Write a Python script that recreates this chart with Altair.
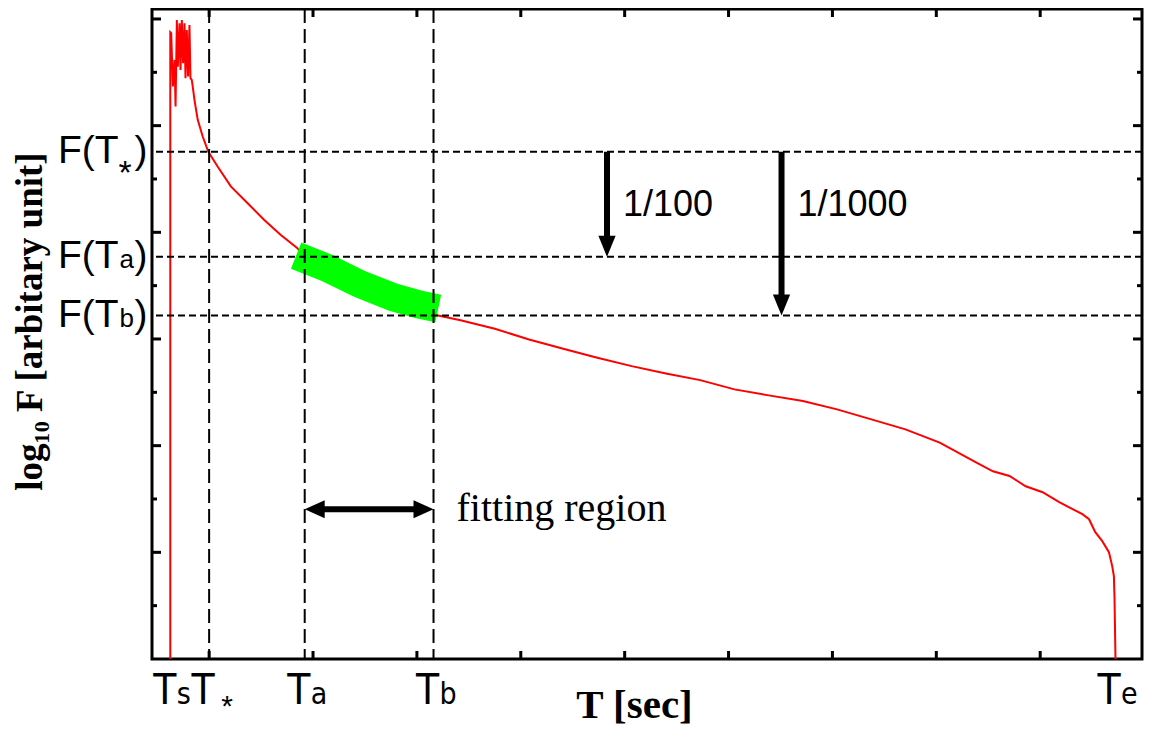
import altair as alt
import pandas as pd

# light curve: T [sec] and log10 F [decades, arbitrary zero]
curve_t = [62.6, 62.6, 63.47, 65.09, 66.72, 67.68, 68.92, 69.88, 71.50, 72.46,
           73.71, 74.95, 76.29, 77.25, 78.49, 79.73, 81.07, 82.03, 83.27, 84.23,
           85.86, 89.02, 93.80, 99.25, 108.15, 120.88, 136.86, 152.84, 168.72, 184.70,
           191.69, 222.97, 256.46, 285.17, 315.79, 342.01, 375.02, 407.93, 440.85, 473.67,
           506.78, 539.69, 572.70, 605.71, 638.63, 671.55, 704.46, 737.47, 770.29, 803.30,
           838.23, 854.50, 870.48, 886.07, 902.34, 918.32, 940.61, 947.02, 953.05, 959.75,
           966.16, 969.32, 970.94, 971.52, 972.48]
curve_logf = [-12.0, -0.249, -0.268, -1.267, -0.768, -1.642, -0.019, -0.893, -0.080, -0.955,
              -0.019, -0.829, -0.080, -1.110, -0.206, -1.080, -0.112, -1.110, -1.142, -1.267,
              -1.516, -1.891, -2.203, -2.490, -2.765, -3.139, -3.450, -3.763, -4.044, -4.292,
              -4.455, -4.736, -5.054, -5.298, -5.541, -5.648, -5.809, -6.009, -6.183, -6.352,
              -6.509, -6.646, -6.771, -6.945, -7.057, -7.164, -7.320, -7.507, -7.694, -7.943,
              -8.312, -8.480, -8.568, -8.761, -8.873, -9.060, -9.285, -9.379, -9.622, -9.791,
              -9.996, -10.259, -10.446, -10.839, -12.0]

# green fit over the fitting region
fit_t = [183.74, 213.41, 244.98, 277.51, 302.39, 320.57]
fit_logf = [-4.437, -4.667, -4.970, -5.219, -5.354, -5.429]

# special times on the T axis
t_names = ["s", "*", "a", "b", "e"]
t_values = [63, 100, 192, 316, 972]
dashed_names = ["*", "a", "b"]

# flux levels F(T*), F(Ta), F(Tb)
f_names = ["*", "a", "b"]
f_levels = [-2.49, -4.46, -5.56]

# drop arrows
ratio_labels = ["1/100", "1/1000"]
ratio_t = [483, 651]
ratio_to = [-4.46, -5.56]

# fitting region arrow
fit_arrow_logf = -9.19

tick_t = [100, 200, 300, 400, 500, 600, 700, 800, 900]
major_logf = [0, -2, -4, -6, -8, -10]
minor_logf = [-1, -3, -5, -7, -9, -11]

SANS = "Liberation Sans, Helvetica, Arial, sans-serif"
NARROW = "Liberation Sans Narrow, DejaVu Sans Condensed, Liberation Sans, sans-serif"
SERIF = "Liberation Serif, Times New Roman, serif"
W, H = 990, 650

curve_df = pd.DataFrame({"t": curve_t, "logf": curve_logf, "i": range(len(curve_t))})
fit_df = pd.DataFrame({"t": fit_t, "logf": fit_logf})
marks_df = pd.DataFrame({"sub": t_names, "t": t_values})
dashed_df = marks_df[marks_df["sub"].isin(dashed_names)]
levels_df = pd.DataFrame({"sub": f_names, "logf": f_levels})
ratio_df = pd.DataFrame({"label": ratio_labels, "t": ratio_t,
                         "start": [f_levels[0]] * 2, "end": ratio_to})
fitreg_df = pd.DataFrame({"label": ["fitting region"], "t0": [t_values[2]],
                          "t1": [t_values[3]], "logf": [fit_arrow_logf]})
xtick_df = pd.DataFrame({"t": tick_t})
major_df = pd.DataFrame({"logf": major_logf})
minor_df = pd.DataFrame({"logf": minor_logf})

xs = alt.Scale(domain=[45, 998.0], nice=False, zero=False)
ys = alt.Scale(domain=[-12, 0.187], nice=False, zero=False)
x_axis = alt.Axis(title="T [sec]", labels=False, ticks=False, domain=False, grid=False,
                  titleFont=SERIF, titleFontWeight="bold", titleFontSize=41,
                  titleColor="black", titleX=482, titleY=58,
                  titleAlign="center", titleBaseline="alphabetic")
y_axis = alt.Axis(title="log₁₀ F [arbitary unit]", labels=False, ticks=False,
                  domain=False, grid=False,
                  titleFont=SERIF, titleFontWeight="bold", titleFontSize=37,
                  titleColor="black", titleAngle=270, titleX=-122, titleY=312,
                  titleAlign="center", titleBaseline="middle")


def X(field):
    return alt.X(f"{field}:Q", scale=xs, axis=x_axis)


def Y(field):
    return alt.Y(f"{field}:Q", scale=ys, axis=y_axis)


DOWN = "M-0.82,-1L0.82,-1L0,1Z"
LEFT = "M1,-0.9L-1,0L1,0.9Z"
RIGHT = "M-1,-0.9L1,0L-1,0.9Z"

curve = alt.Chart(curve_df).mark_line(color="#ff0000", strokeWidth=2).encode(
    x=X("t"), y=Y("logf"), order="i:Q")

band = alt.Chart(fit_df).mark_line(color="#00ff00", strokeWidth=28, strokeCap="butt").encode(
    x=X("t"), y=Y("logf"))

hdash = alt.Chart(levels_df).mark_rule(color="black", strokeWidth=2, strokeDash=[7, 4]).encode(
    y=Y("logf"))
vdash = alt.Chart(dashed_df).mark_rule(color="black", strokeWidth=2, strokeDash=[14, 6]).encode(
    x=X("t"))

tick = dict(color="black", strokeWidth=3)
bottom_ticks = alt.Chart(xtick_df).mark_rule(**tick).encode(
    x=X("t"), y=alt.value(H), y2=alt.value(H - 8))
top_ticks = alt.Chart(xtick_df).mark_rule(**tick).encode(
    x=X("t"), y=alt.value(0), y2=alt.value(8))
left_major = alt.Chart(major_df).mark_rule(**tick).encode(
    y=Y("logf"), x=alt.value(0), x2=alt.value(9))
right_major = alt.Chart(major_df).mark_rule(**tick).encode(
    y=Y("logf"), x=alt.value(W), x2=alt.value(W - 9))
left_minor = alt.Chart(minor_df).mark_rule(**tick).encode(
    y=Y("logf"), x=alt.value(0), x2=alt.value(5))
right_minor = alt.Chart(minor_df).mark_rule(**tick).encode(
    y=Y("logf"), x=alt.value(W), x2=alt.value(W - 5))

shafts = alt.Chart(ratio_df).mark_rule(color="black", strokeWidth=6, strokeCap="butt",
                                       y2Offset=-10).encode(
    x=X("t"), y=Y("start"), y2="end:Q")
heads = alt.Chart(ratio_df).mark_point(shape=DOWN, filled=True, size=441, color="black",
                                       opacity=1, yOffset=-10.5).encode(
    x=X("t"), y=Y("end"))
ratio_text = alt.Chart(ratio_df).mark_text(font=SANS, fontSize=36, align="left",
                                           baseline="alphabetic", dx=16, dy=64,
                                           color="black").encode(
    x=X("t"), y=Y("start"), text="label:N")

fit_shaft = alt.Chart(fitreg_df).mark_rule(color="black", strokeWidth=6, strokeCap="butt",
                                           xOffset=10, x2Offset=-10).encode(
    x=X("t0"), x2="t1:Q", y=Y("logf"))
fit_left = alt.Chart(fitreg_df).mark_point(shape=LEFT, filled=True, size=400, color="black",
                                           opacity=1, xOffset=10).encode(
    x=X("t0"), y=Y("logf"))
fit_right = alt.Chart(fitreg_df).mark_point(shape=RIGHT, filled=True, size=400, color="black",
                                            opacity=1, xOffset=-10).encode(
    x=X("t1"), y=Y("logf"))
fit_text = alt.Chart(fitreg_df).mark_text(font=SERIF, fontSize=40, align="left",
                                          baseline="alphabetic", dx=23, dy=12,
                                          color="black").encode(
    x=X("t1"), y=Y("logf"), text="label:N")

# T_s, T_*, T_a, T_b, T_e under the axis
t_main = alt.Chart(marks_df).mark_text(font=NARROW, fontSize=42, align="center",
                                       baseline="alphabetic", dx=-6, color="black").encode(
    x=X("t"), y=alt.value(695), text=alt.value("T"))
t_sub = alt.Chart(marks_df).transform_filter(alt.datum.sub != "*").mark_text(
    font=NARROW, fontSize=30, align="left", baseline="alphabetic", dx=6, color="black").encode(
    x=X("t"), y=alt.value(695), text="sub:N")
t_star = alt.Chart(marks_df).transform_filter(alt.datum.sub == "*").mark_text(
    font=SANS, fontSize=30, align="center", baseline="alphabetic", dx=18, color="black").encode(
    x=X("t"), y=alt.value(707), text="sub:N")

# F(T_*), F(T_a), F(T_b) left of the axis
f_main = alt.Chart(levels_df).mark_text(font=SANS, fontSize=39, align="left",
                                        baseline="alphabetic", dy=11, color="black").encode(
    x=alt.value(-94), y=Y("logf"), text=alt.value("F(T"))
f_sub = alt.Chart(levels_df).transform_filter(alt.datum.sub != "*").mark_text(
    font=SANS, fontSize=26, align="left", baseline="alphabetic", dy=11, color="black").encode(
    x=alt.value(-32.5), y=Y("logf"), text="sub:N")
f_star = alt.Chart(levels_df).transform_filter(alt.datum.sub == "*").mark_text(
    font=SANS, fontSize=34, align="center", baseline="alphabetic", dy=32, color="black").encode(
    x=alt.value(-27), y=Y("logf"), text="sub:N")
f_close = alt.Chart(levels_df).mark_text(font=SANS, fontSize=39, align="left",
                                         baseline="alphabetic", dy=11, color="black").encode(
    x=alt.value(-17.5), y=Y("logf"), text=alt.value(")"))

chart = alt.layer(
    curve, band, hdash, vdash,
    bottom_ticks, top_ticks, left_major, right_major, left_minor, right_minor,
    shafts, heads, ratio_text, fit_shaft, fit_left, fit_right, fit_text,
    t_main, t_sub, t_star, f_main, f_sub, f_star, f_close,
).properties(
    width=W,
    height=H,
    autosize=alt.AutoSizeParams(type="none"),
    padding={"left": 144, "top": 1, "right": 2, "bottom": 66},
    background="white",
).configure_view(
    stroke="black",
    strokeWidth=3,
)

chart.save("out.html", embed_options={"renderer": "svg", "actions": False})
